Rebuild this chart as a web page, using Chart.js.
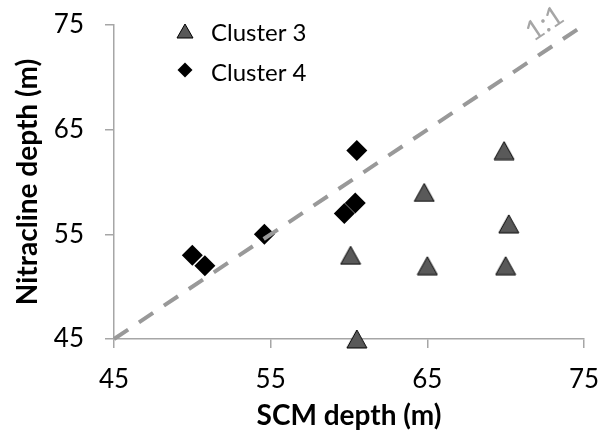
<!DOCTYPE html>
<html>
<head>
<meta charset="utf-8">
<script src="https://cdn.jsdelivr.net/npm/chart.js@4"></script>
<style>
    html, body { margin: 0; padding: 0; background: #fff; }
</style>
</head>
<body>
<canvas id="grafico" width="609" height="436"></canvas>
<script>
// Datos del gráfico
const cluster3X = [69.9, 64.8, 70.2, 60.1, 65.0, 70.0, 60.5];
const cluster3Y = [63, 59, 56, 53, 52, 52, 45];
const cluster4X = [50.0, 50.8, 54.6, 59.7, 60.4, 60.5];
const cluster4Y = [53, 52, 55, 57, 58, 63];
const lineaUnoUno = [45, 75];
const ticksEje = [45, 55, 65, 75];
const etiquetas = ['Cluster 3', 'Cluster 4'];
const textoLinea = '1:1';

const fuente = 'Lato, "Open Sans", sans-serif';
const grisEje = '#a6a6a6';

// Triángulo centrado en su caja (como en Excel)
function crearTriangulo(w, h) {
    const c = document.createElement('canvas');
    c.width = w + 2;
    c.height = h + 2;
    const ctx = c.getContext('2d');
    ctx.beginPath();
    ctx.moveTo(c.width / 2, 1);
    ctx.lineTo(w + 1, h + 1);
    ctx.lineTo(1, h + 1);
    ctx.closePath();
    ctx.fillStyle = '#595959';
    ctx.fill();
    ctx.lineWidth = 1;
    ctx.strokeStyle = '#000';
    ctx.stroke();
    return c;
}

const trianguloGrande = crearTriangulo(20, 18);
const trianguloLeyenda = crearTriangulo(16, 14);

const toPoints = (xs, ys) => xs.map((x, i) => ({ x: x, y: ys[i] }));

// Quitar el relleno automático de las escalas (el área la fija layout.padding)
function sinRelleno(scale) {
    scale.paddingTop = 0;
    scale.paddingBottom = 0;
    scale.paddingLeft = 0;
    scale.paddingRight = 0;
}

// Leyenda dentro del área del gráfico
const leyendaPlugin = {
    id: 'leyendaInterna',
    afterDraw(chart) {
        const ctx = chart.ctx;
        const area = chart.chartArea;
        const x0 = area.left + 71;
        ctx.save();
        // Cluster 3
        ctx.drawImage(trianguloLeyenda, x0 - trianguloLeyenda.width / 2, area.top + 6 - trianguloLeyenda.height / 2);
        // Cluster 4
        ctx.beginPath();
        const r = 7.5, cy = area.top + 45;
        ctx.moveTo(x0, cy - r);
        ctx.lineTo(x0 + r, cy);
        ctx.lineTo(x0, cy + r);
        ctx.lineTo(x0 - r, cy);
        ctx.closePath();
        ctx.fillStyle = '#000';
        ctx.fill();
        ctx.font = '24px ' + fuente;
        ctx.textBaseline = 'middle';
        ctx.textAlign = 'left';
        ctx.fillText(etiquetas[0], x0 + 26, area.top + 8);
        ctx.fillText(etiquetas[1], x0 + 26, area.top + 48);
        ctx.restore();
    }
};

// Etiqueta "1:1" sobre la línea
const etiquetaLineaPlugin = {
    id: 'etiquetaLinea',
    afterDatasetsDraw(chart) {
        const ctx = chart.ctx;
        const sx = chart.scales.x, sy = chart.scales.y;
        const dx = sx.getPixelForValue(lineaUnoUno[1]) - sx.getPixelForValue(lineaUnoUno[0]);
        const dy = sy.getPixelForValue(lineaUnoUno[0]) - sy.getPixelForValue(lineaUnoUno[1]);
        const ang = Math.atan2(dy, dx);
        const px = sx.getPixelForValue(73.3), py = sy.getPixelForValue(73.3);
        ctx.save();
        ctx.translate(px, py);
        ctx.rotate(-ang);
        ctx.font = '28px ' + fuente;
        ctx.fillStyle = '#a6a6a6';
        ctx.textAlign = 'center';
        ctx.textBaseline = 'middle';
        ctx.fillText(textoLinea, 0, -23);
        ctx.restore();
    }
};

const ctx = document.getElementById('grafico').getContext('2d');
new Chart(ctx, {
    type: 'scatter',
    data: {
        datasets: [
            {
                label: '1:1',
                type: 'line',
                data: toPoints(lineaUnoUno, lineaUnoUno),
                borderColor: '#999999',
                borderWidth: 4,
                borderDash: [17, 13],
                pointRadius: 0,
                fill: false,
                clip: false
            },
            {
                label: etiquetas[0],
                data: toPoints(cluster3X, cluster3Y),
                pointStyle: trianguloGrande,
                pointRadius: 10,
                clip: false
            },
            {
                label: etiquetas[1],
                data: toPoints(cluster4X, cluster4Y),
                pointStyle: 'rectRot',
                pointRadius: 10.5,
                backgroundColor: '#000',
                borderColor: '#000',
                borderWidth: 0,
                clip: false
            }
        ]
    },
    options: {
        responsive: false,
        animation: false,
        layout: { padding: { left: 0, right: 25, top: 25, bottom: 0 } },
        plugins: {
            legend: { display: false },
            tooltip: { enabled: false }
        },
        scales: {
            x: {
                type: 'linear',
                min: 45,
                max: 75,
                afterBuildTicks: (scale) => { scale.ticks = ticksEje.map(v => ({ value: v })); },
                afterFit: (scale) => { scale.height = 97; sinRelleno(scale); },
                grid: { drawOnChartArea: false, tickLength: 9, color: grisEje, lineWidth: 1.5 },
                border: { color: grisEje, width: 1.5 },
                ticks: { font: { family: fuente, size: 26 }, color: '#000', padding: 16 },
                title: {
                    display: true,
                    text: 'SCM depth (m)',
                    font: { family: fuente, size: 28, weight: 'bold' },
                    color: '#000',
                    padding: { top: 0, bottom: 3 }
                }
            },
            y: {
                type: 'linear',
                min: 45,
                max: 75,
                afterBuildTicks: (scale) => { scale.ticks = ticksEje.map(v => ({ value: v })); },
                afterFit: (scale) => { scale.width = 114; sinRelleno(scale); },
                grid: { drawOnChartArea: false, tickLength: 9, color: grisEje, lineWidth: 1.5 },
                border: { color: grisEje, width: 1.5 },
                ticks: { font: { family: fuente, size: 26 }, color: '#000', padding: 21 },
                title: {
                    display: true,
                    text: 'Nitracline depth (m)',
                    font: { family: fuente, size: 28, weight: 'bold' },
                    color: '#000',
                    padding: { top: 11, bottom: 0 }
                }
            }
        }
    },
    plugins: [leyendaPlugin, etiquetaLineaPlugin]
});
</script>
</body>
</html>
